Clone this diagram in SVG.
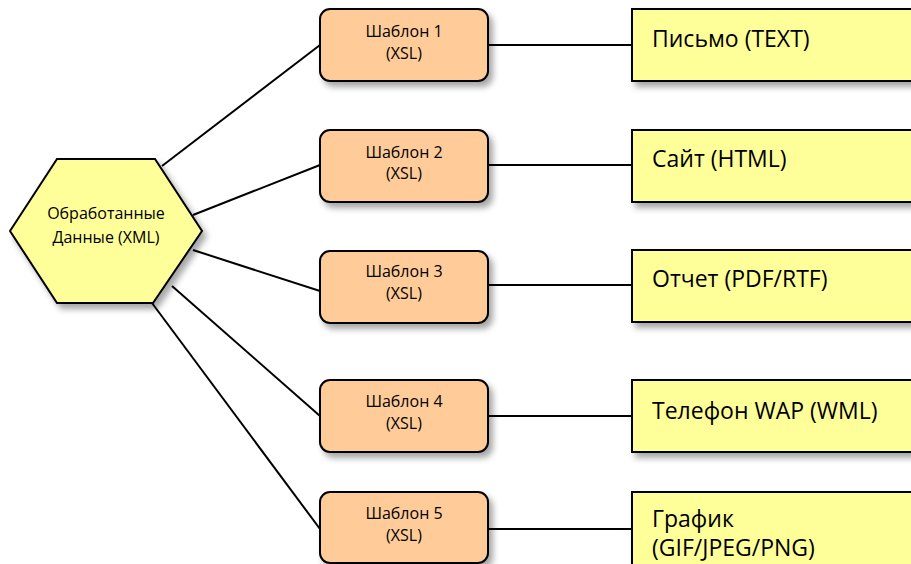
<svg xmlns="http://www.w3.org/2000/svg" width="911" height="564" viewBox="0 0 911 564">
<defs>
<filter id="sh" x="-20%" y="-20%" width="150%" height="160%">
<feDropShadow dx="4" dy="5" stdDeviation="3" flood-color="#000" flood-opacity="0.35"/>
</filter>
<style>
.hex{fill:#ffff99;stroke:#000;stroke-width:2;filter:url(#sh)}
.tpl{fill:#ffcc99;stroke:#000;stroke-width:2;filter:url(#sh)}
.out{fill:#ffff99;stroke:#000;stroke-width:2;filter:url(#sh)}
.t{font-family:"Open Sans","Liberation Sans",Arial,sans-serif;font-size:16px;fill:#000;text-anchor:middle}
.o{font-family:"Open Sans","Liberation Sans",Arial,sans-serif;font-size:23px;fill:#000}
.c{stroke:#000;stroke-width:2;fill:none}
</style>
</defs>
<rect width="911" height="564" fill="#fff"/>
<g id="connectors">
<line class="c" x1="162" y1="166" x2="320" y2="45"/>
<line class="c" x1="193" y1="215" x2="320" y2="165"/>
<line class="c" x1="193" y1="250" x2="320" y2="291"/>
<line class="c" x1="172" y1="286" x2="320" y2="416"/>
<line class="c" x1="152" y1="303" x2="320" y2="529"/>
<line class="c" x1="488" y1="45" x2="632" y2="45"/>
<line class="c" x1="488" y1="165" x2="632" y2="165"/>
<line class="c" x1="488" y1="285" x2="632" y2="285"/>
<line class="c" x1="488" y1="416" x2="632" y2="416"/>
<line class="c" x1="488" y1="529" x2="632" y2="529"/>
</g>
<g id="data">
<polygon class="hex" points="10,231 57,159 155,159 202,231 153,303 57,303"/>
<text class="t" x="106" y="219">Обработанные</text>
<text class="t" x="106" y="243">Данные (XML)</text>
</g>
<g id="tpl1"><rect class="tpl" x="320" y="9" width="168" height="72" rx="10"/><text class="t" x="404" y="37">Шаблон 1</text><text class="t" x="404" y="59">(XSL)</text></g>
<g id="tpl2"><rect class="tpl" x="320" y="130" width="168" height="72" rx="10"/><text class="t" x="404" y="158">Шаблон 2</text><text class="t" x="404" y="179">(XSL)</text></g>
<g id="tpl3"><rect class="tpl" x="320" y="251" width="168" height="72" rx="10"/><text class="t" x="404" y="277">Шаблон 3</text><text class="t" x="404" y="299">(XSL)</text></g>
<g id="tpl4"><rect class="tpl" x="320" y="380" width="168" height="72" rx="10"/><text class="t" x="404" y="407">Шаблон 4</text><text class="t" x="404" y="429">(XSL)</text></g>
<g id="tpl5"><rect class="tpl" x="320" y="492" width="168" height="71" rx="10"/><text class="t" x="404" y="519">Шаблон 5</text><text class="t" x="404" y="541">(XSL)</text></g>
<g id="out1"><rect class="out" x="632" y="9" width="290" height="72"/><text class="o" x="652" y="47">Письмо (TEXT)</text></g>
<g id="out2"><rect class="out" x="632" y="130" width="290" height="72"/><text class="o" x="652" y="167">Сайт (HTML)</text></g>
<g id="out3"><rect class="out" x="632" y="250" width="290" height="72"/><text class="o" x="652" y="287">Отчет (PDF/RTF)</text></g>
<g id="out4"><rect class="out" x="632" y="380" width="290" height="72"/><text class="o" x="652" y="419">Телефон WAP (WML)</text></g>
<g id="out5"><rect class="out" x="632" y="492" width="290" height="80"/><text class="o" x="652" y="527">График</text><text class="o" x="652" y="556">(GIF/JPEG/PNG)</text></g>
</svg>
